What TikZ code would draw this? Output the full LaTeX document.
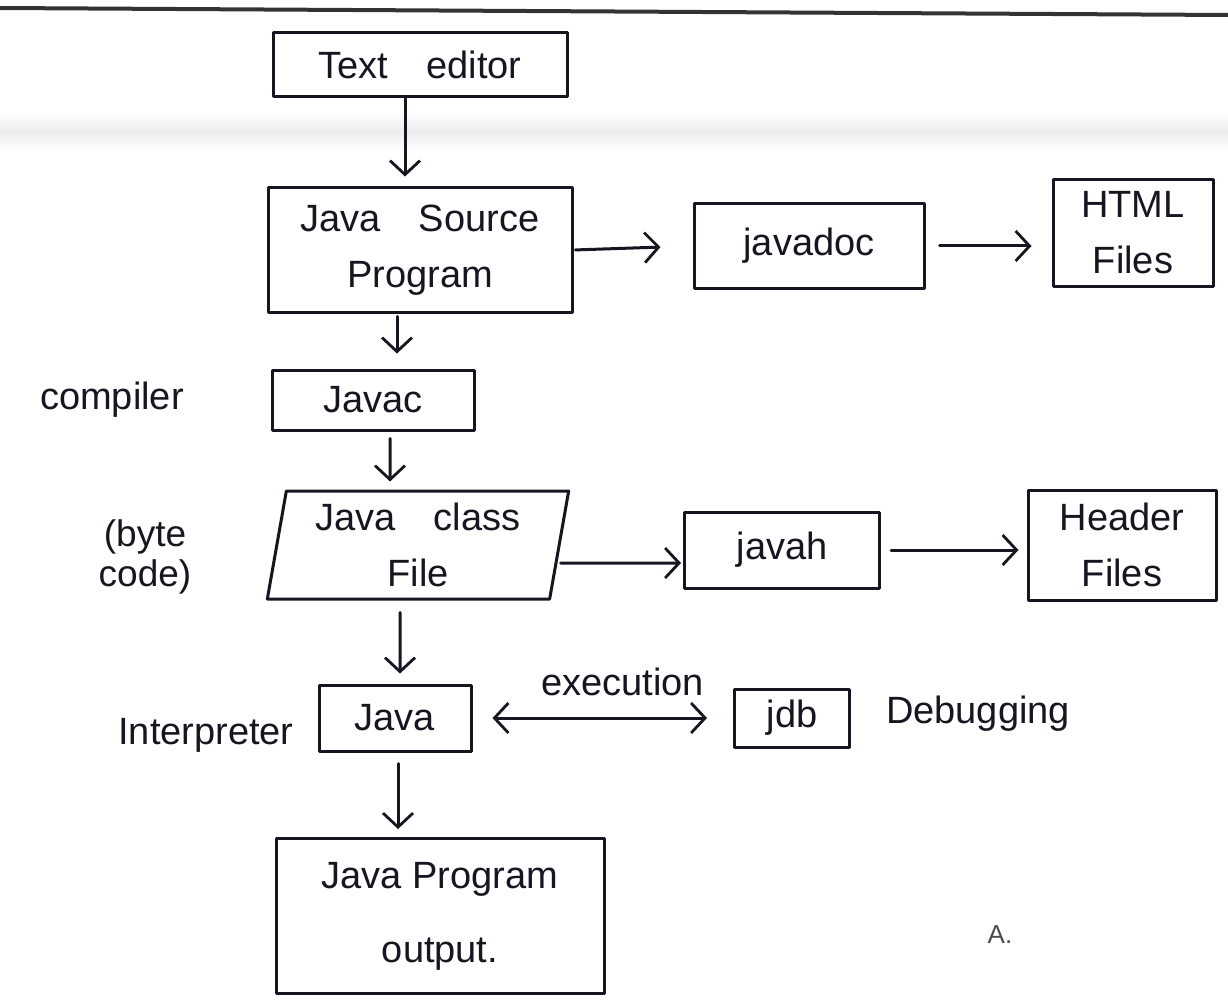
\documentclass[tikz,border=0pt]{standalone}
\usepackage{fontspec}
\setmainfont{Liberation Sans}
\usetikzlibrary{arrows.meta,shapes.geometric}
\definecolor{ink}{RGB}{22,22,32}
\tikzset{
  pen/.style={line width=3pt, draw=ink, line cap=round, line join=round},
  box/.style={pen, rectangle, inner sep=0pt, align=center, text=ink,
    font=\fontsize{38}{56}\selectfont},
  slantbox/.style={pen, trapezium, trapezium left angle=80, trapezium right angle=100,
    inner sep=0pt, align=center, text=ink, font=\fontsize{38}{56}\selectfont},
  lbl/.style={text=ink, font=\fontsize{38}{42}\selectfont, align=center, inner sep=0pt},
  barb/.style={Straight Barb[length=14pt,width=30pt,line width=2.8pt]},
  arr/.style={pen, -{Straight Barb[length=14pt,width=30pt,line width=2.8pt]}},
  darr/.style={pen, {Straight Barb[length=14pt,width=30pt,line width=2.8pt]}-{Straight Barb[length=14pt,width=30pt,line width=2.8pt]}}
}
\begin{document}
\begin{tikzpicture}[x=1pt,y=-1pt]
  \useasboundingbox (0,0) rectangle (1228,1000);
  \fill[white] (0,0) rectangle (1228,1000);
  % ruled line at the top of the page and a faint fold below it
  \shade[top color=white, bottom color=black!7] (0,112) rectangle (1228,132);
  \shade[top color=black!7, bottom color=white] (0,132) rectangle (1228,152);
  \draw[line width=4pt, draw=black!80] (0,8) -- (1228,15);

  % boxes
  \node[box, minimum width=294, minimum height=64] (te) at (420,65) {Text\quad editor};
  \node[box, minimum width=304, minimum height=124] (jsp) at (420,250) {Java\quad Source\\Program};
  \node[box, minimum width=230, minimum height=84] (jdoc) at (809,246) {javadoc};
  \node[box, minimum width=160, minimum height=106] (html) at (1133,233) {HTML\\Files};
  \node[box, minimum width=202, minimum height=60] (javac) at (373,400) {Javac};
  \node[slantbox, minimum width=290, minimum height=108] (jcf) at (418,545) {Java\quad class\\File};
  \node[box, minimum width=195, minimum height=76] (javah) at (782,550) {javah};
  \node[box, minimum width=188, minimum height=110] (hdr) at (1122,545) {Header\\Files};
  \node[box, minimum width=152, minimum height=66] (jint) at (395,718) {Java};
  \node[box, minimum width=115, minimum height=58] (jdb) at (792,718) {jdb};
  \node[box, minimum width=328, minimum height=155] (out) at (440,916) {Java Program\\[18pt]output.};

  % side labels
  \node[lbl] (lcomp) at (112,400) {compiler};
  \node[lbl, font=\fontsize{37}{40}\selectfont] (lbyte) at (145,557) {(byte\\code)};
  \node[lbl] (linterp) at (206,735) {Interpreter};
  \node[lbl] (ldebug) at (978,714) {Debugging};
  \node[lbl, text=black!70, font=\fontsize{26}{30}\selectfont] (lmark) at (1000,935) {A.};

  % connectors
  \draw[arr] ([xshift=-15pt]te.south) -- ([xshift=-15pt,yshift=10pt]jsp.north);
  \draw[arr, shorten <=2pt, shorten >=32pt] (jsp.east) -- (jdoc.west);
  \draw[arr, shorten <=14pt, shorten >=20pt] (jdoc.east) -- (jdoc.east -| html.west);
  \draw[arr, shorten <=3pt, shorten >=15pt] ([xshift=-23pt]jsp.south) -- ([xshift=24pt]javac.north);
  \draw[arr, shorten <=7pt, shorten >=8pt] ([xshift=17pt]javac.south) -- ([xshift=-28pt]jcf.north);
  \draw[arr, shorten >=2pt] ([yshift=-18pt]jcf.east) -- ([yshift=-13pt]javah.west);
  \draw[arr, shorten <=10pt, shorten >=8pt] (javah.east) -- (javah.east -| hdr.west);
  \draw[arr, shorten <=12pt, shorten >=10pt] ([xshift=-18pt]jcf.south) -- ([xshift=5pt]jint.north);
  \draw[darr, shorten <=20pt, shorten >=26pt] (jint.east) -- (jdb.west)
    node[lbl, midway, yshift=36pt, xshift=20pt] (lexec) {execution};
  \draw[arr, shorten <=11pt, shorten >=8pt] ([xshift=3pt]jint.south) -- ([xshift=3pt]jint.south |- out.north);
\end{tikzpicture}
\end{document}
